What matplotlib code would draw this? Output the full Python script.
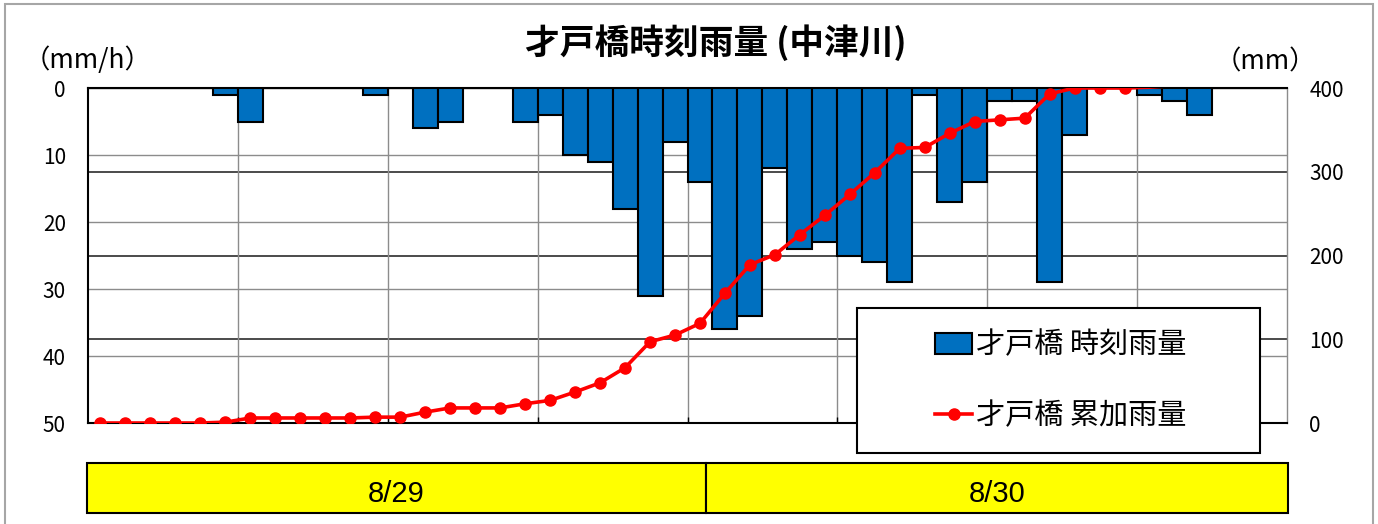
import numpy as np
import matplotlib
matplotlib.use("Agg")
import matplotlib.pyplot as plt
from matplotlib.patches import Rectangle
from matplotlib.lines import Line2D

plt.rcParams['font.family'] = ['Noto Sans CJK JP', 'DejaVu Sans']

# ---------------- data ----------------
title = "才戸橋時刻雨量 (中津川)"
bar_label = "才戸橋 時刻雨量"
line_label = "才戸橋 累加雨量"
dates = ["8/29", "8/30"]
# hourly rainfall (mm/h), 48 hours
hourly = [0, 0, 0, 0, 0, 1, 5, 0, 0, 0, 0, 1,
          0, 6, 5, 0, 0, 5, 4, 10, 11, 18, 31, 8,
          14, 36, 34, 12, 24, 23, 25, 26, 29, 1, 17, 14,
          2, 2, 29, 7, 0, 0, 1, 2, 4, 0, 0, 0]
# cumulative rainfall (mm)
cumulative = [0, 0, 0, 0, 0, 1, 6, 6, 6, 6, 6, 7,
              7, 13, 18, 18, 18, 23, 27, 37, 48, 66, 97, 105,
              119, 155, 189, 201, 225, 248, 273, 299, 328, 329, 346, 360,
              362, 364, 393, 400, 400, 400, 401, 403, 407, 407, 407, 407]
left_ticks = [0, 10, 20, 30, 40, 50]
right_ticks = [0, 100, 200, 300, 400]

# ---------------- layout ----------------
W, H = 1378, 524
fig = plt.figure(figsize=(W / 100, H / 100), dpi=100)
fx = lambda px: px / W
fy = lambda py: 1 - py / H

ax = fig.add_axes([fx(88), fy(423), (1287 - 88) / W, (423 - 88) / H])
ax2 = ax.twinx()
ax.set_zorder(2)
ax2.set_zorder(1)
ax.patch.set_visible(False)
ax2.patch.set_facecolor('white')

x = np.arange(len(hourly))
bars = ax.bar(x, hourly, width=1.0, color='#0070C0', edgecolor='black',
              linewidth=1.5, zorder=3)
ax.set_xlim(-0.5, len(hourly) - 0.5)
ax.set_ylim(max(left_ticks), 0)
ax.set_yticks(left_ticks)
ax.set_axisbelow(True)
ax.grid(axis='y', color='#8c8c8c', lw=1.0)
ax.set_xticks(np.arange(5.5, len(hourly) - 1, 6))
ax.set_xticklabels([])
ax.grid(axis='x', color='#8c8c8c', lw=1.0)
ax.tick_params(axis='x', direction='in', length=4, color='black', width=1)
ax.tick_params(axis='y', length=0, pad=16, labelsize=15)

ax2.set_ylim(0, max(right_ticks))
ax2.set_yticks(right_ticks)
ax2.grid(axis='y', color='#1a1a1a', lw=1.1)
ax2.tick_params(axis='y', length=0, pad=16, labelsize=15)
for s in ax2.spines.values():
    s.set_visible(False)

for side in ['top', 'left', 'bottom']:
    ax.spines[side].set_color('black')
    ax.spines[side].set_linewidth(1.5)
ax.spines['right'].set_color('#8c8c8c')
ax.spines['right'].set_linewidth(1.0)

# cumulative line drawn above bars, in right-axis scale
vis = [i for i, v in enumerate(cumulative) if v <= max(right_ticks)]
ax.plot(x, cumulative, transform=ax2.transData, color='#FF0000', lw=2.6,
        marker='o', markersize=8, markevery=vis, zorder=5)

# ---------------- texts ----------------
fig.text(fx(716), fy(43), title, ha='center', va='center',
         fontsize=25, fontweight='bold')
fig.text(fx(88), fy(60), "（mm/h）", ha='center', va='center', fontsize=19)
fig.text(fx(1265), fy(62), "（mm）", ha='center', va='center', fontsize=19)

# ---------------- legend ----------------
box = Rectangle((fx(857), fy(453)), (1260 - 857) / W, (453 - 308) / H,
                transform=fig.transFigure, facecolor='white',
                edgecolor='black', lw=1.5, zorder=4)
fig.add_artist(box)
proxy = Line2D([], [], color='#FF0000', lw=2.6, marker='o', markersize=8)
leg = fig.legend(handles=[bars, proxy], labels=[bar_label, line_label],
                 loc='center', bbox_to_anchor=(fx(1061), fy(381)),
                 frameon=False, fontsize=21, handlelength=1.25,
                 handletextpad=0.15, labelspacing=1.4, numpoints=1)
leg.set_zorder(5)

# ---------------- date band ----------------
band = fig.add_axes([fx(87), fy(513), (1288 - 87) / W, 50 / H])
band.set_xlim(0, 1)
band.set_ylim(0, 1)
band.axis('off')
edges = [0, 0.5154, 1]
for i, d in enumerate(dates):
    band.add_patch(Rectangle((edges[i], 0), edges[i + 1] - edges[i], 1,
                             facecolor='#FFFF00', edgecolor='black', lw=1.5,
                             clip_on=False))
    band.text((edges[i] + edges[i + 1]) / 2, 0.38, d, ha='center', va='center',
              fontsize=21, family=['Liberation Sans', 'DejaVu Sans'])

# ---------------- outer frame ----------------
fig.add_artist(Rectangle((fx(5), -0.1), (1373 - 5) / W, 1.1 - 4 / H,
                         transform=fig.transFigure, fill=False,
                         edgecolor='#A6A6A6', lw=1.5))

fig.savefig('out.png', dpi=100)
